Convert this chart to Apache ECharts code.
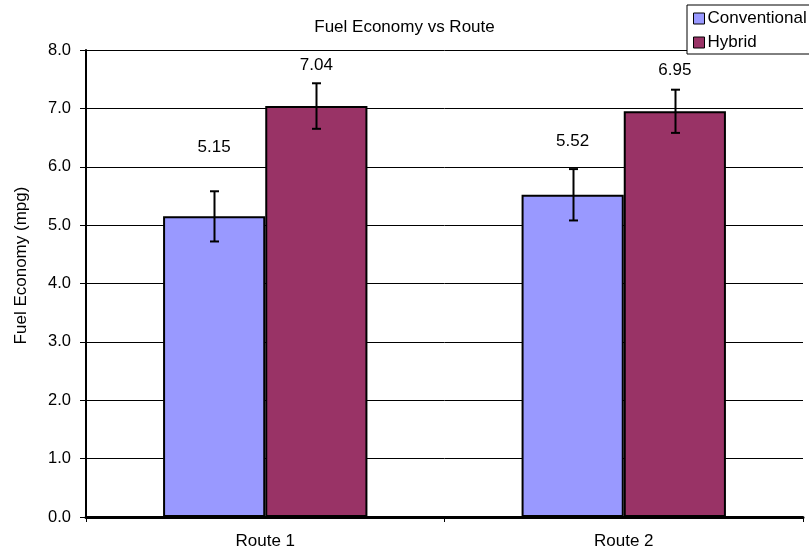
<!DOCTYPE html>
<html>
<head>
<meta charset="utf-8">
<script src="https://cdn.jsdelivr.net/npm/echarts@6/dist/echarts.min.js"></script>
<style>
html,body{margin:0;padding:0;background:#fff;}
#chart{width:809px;height:554px;}
</style>
</head>
<body>
<div id="chart"></div>
<script>
const categories = ['Route 1', 'Route 2'];
const seriesNames = ['Conventional', 'Hybrid'];
const conventional = [5.15, 5.52];
const hybrid = [7.04, 6.95];
const conventionalError = [0.43, 0.44];
const hybridError = [0.39, 0.37];
const yTicks = [0, 1, 2, 3, 4, 5, 6, 7, 8];

const FONT = 'Liberation Sans, Arial, sans-serif';
const colors = ['#9999FF', '#993366'];
const CAT_GAP = 0.43;
const labelDist = [[61, 45], [32, 32]];

function errorSeries(values, errors, sideIndex) {
  return {
    type: 'custom',
    name: seriesNames[sideIndex] + ' error',
    z: 10,
    silent: true,
    data: values.map((v, i) => [i, v - errors[i], v + errors[i]]),
    renderItem: function (params, api) {
      const band = api.size([1, 0])[0];
      const barW = band * (1 - CAT_GAP) / 2;
      const off = (sideIndex === 0 ? -1 : 1) * barW / 2;
      const lo = api.coord([api.value(0), api.value(1)]);
      const hi = api.coord([api.value(0), api.value(2)]);
      const x = Math.round(lo[0] + off) + 0.5;
      const cap = 4.5;
      const style = { stroke: '#000', lineWidth: 2 };
      return {
        type: 'group',
        children: [
          { type: 'line', shape: { x1: x, y1: hi[1], x2: x, y2: lo[1] }, style: style },
          { type: 'line', shape: { x1: x - cap, y1: hi[1], x2: x + cap, y2: hi[1] }, style: style },
          { type: 'line', shape: { x1: x - cap, y1: lo[1], x2: x + cap, y2: lo[1] }, style: style }
        ]
      };
    }
  };
}

function barSeries(values, idx) {
  return {
    type: 'bar',
    name: seriesNames[idx],
    barGap: '0%',
    barCategoryGap: (CAT_GAP * 100) + '%',
    itemStyle: { color: colors[idx], borderColor: '#000', borderWidth: 2 },
    data: values.map((v, i) => ({ value: v, label: { distance: labelDist[idx][i] } })),
    label: {
      show: true,
      position: 'top',
      color: '#000',
      fontFamily: FONT,
      fontSize: 17,
      formatter: p => p.value.toFixed(2)
    }
  };
}

const option = {
  backgroundColor: '#fff',
  animation: false,
  textStyle: { fontFamily: FONT },
  title: {
    text: 'Fuel Economy vs Route',
    left: 'center',
    top: 14,
    textStyle: { fontFamily: FONT, fontSize: 17, fontWeight: 'normal', color: '#000' }
  },
  legend: {
    orient: 'vertical',
    left: 687,
    top: 5,
    padding: [5, 30, 3, 6],
    itemGap: 7,
    itemWidth: 11,
    itemHeight: 11,
    icon: 'rect',
    borderColor: '#000',
    borderWidth: 1,
    backgroundColor: '#fff',
    data: seriesNames.map((n, i) => ({ name: n, itemStyle: { color: colors[i], borderColor: '#000', borderWidth: 1 } })),
    textStyle: { fontFamily: FONT, fontSize: 17, color: '#000', padding: [0, 0, 0, -2] }
  },
  grid: { left: 86, right: 6, top: 50, bottom: 37, containLabel: false },
  xAxis: {
    type: 'category',
    data: categories,
    axisLine: { lineStyle: { color: '#000', width: 3 } },
    axisTick: { show: true, length: 5, lineStyle: { color: '#000', width: 1 } },
    axisLabel: { color: '#000', fontFamily: FONT, fontSize: 17, margin: 16 },
    splitLine: { show: false }
  },
  yAxis: {
    type: 'value',
    min: yTicks[0],
    max: yTicks[yTicks.length - 1],
    interval: 1,
    name: 'Fuel Economy (mpg)',
    nameLocation: 'middle',
    nameGap: 56,
    nameRotate: 90,
    nameTextStyle: { fontFamily: FONT, fontSize: 17, color: '#000', padding: [0, 0, 0, 36] },
    axisLine: { show: true, lineStyle: { color: '#000', width: 2 } },
    axisTick: { show: true, length: 6, lineStyle: { color: '#000', width: 1 } },
    axisLabel: { color: '#000', fontFamily: FONT, fontSize: 16.5, margin: 15, formatter: v => v.toFixed(1) },
    splitLine: { show: true, lineStyle: { color: '#000', width: 1 } }
  },
  series: [
    barSeries(conventional, 0),
    barSeries(hybrid, 1),
    errorSeries(conventional, conventionalError, 0),
    errorSeries(hybrid, hybridError, 1)
  ]
};

const chart = echarts.init(document.getElementById('chart'), null, { renderer: 'canvas' });
chart.setOption(option);
</script>
</body>
</html>
